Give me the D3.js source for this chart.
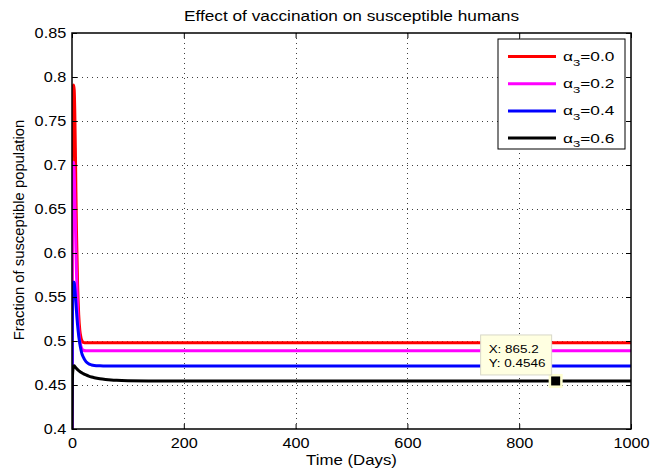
<!DOCTYPE html>
<html>
<head>
<meta charset="utf-8">
<script src="https://cdn.jsdelivr.net/npm/d3@7"></script>
<style>
  body { margin: 0; background: #fff; }
  svg { display: block; font-family: "Liberation Sans", Arial, sans-serif; }
</style>
</head>
<body>
<svg id="chart" width="651" height="472"></svg>
<script>
// Time grid (days) shared by all four runs
const days = [0, 0.5, 1, 2, 3, 4, 5, 6, 7, 8, 10, 12, 14, 16, 18, 20, 25, 30, 35, 40, 50, 60, 70, 80, 100, 150, 200, 400, 600, 800, 1000];

// Fraction of susceptible humans for each vaccination rate alpha_3
const sAlpha00 = [0.40, 0.62, 0.76, 0.789, 0.791, 0.785, 0.76, 0.72, 0.67, 0.625, 0.565, 0.53, 0.512, 0.504, 0.500, 0.4985, 0.498, 0.498, 0.498, 0.498, 0.498, 0.498, 0.498, 0.498, 0.498, 0.498, 0.498, 0.498, 0.498, 0.498, 0.498];
const sAlpha02 = [0.40, 0.57, 0.67, 0.70, 0.703, 0.69, 0.665, 0.635, 0.605, 0.578, 0.537, 0.513, 0.500, 0.494, 0.491, 0.4895, 0.489, 0.489, 0.489, 0.489, 0.489, 0.489, 0.489, 0.489, 0.489, 0.489, 0.489, 0.489, 0.489, 0.489, 0.489];
const sAlpha04 = [0.40, 0.50, 0.545, 0.562, 0.567, 0.566, 0.560, 0.552, 0.543, 0.534, 0.518, 0.506, 0.497, 0.490, 0.485, 0.482, 0.4765, 0.474, 0.4728, 0.4722, 0.4718, 0.4716, 0.4716, 0.4716, 0.4716, 0.4716, 0.4716, 0.4716, 0.4716, 0.4716, 0.4716];
const sAlpha06 = [0.40, 0.445, 0.462, 0.469, 0.4715, 0.4718, 0.471, 0.4702, 0.4695, 0.4688, 0.4675, 0.4664, 0.4654, 0.4645, 0.4637, 0.463, 0.4614, 0.4601, 0.4591, 0.4583, 0.4571, 0.4563, 0.4557, 0.4553, 0.4549, 0.4546, 0.4546, 0.4546, 0.4546, 0.4546, 0.4546];

const seriesNames = ["0.0", "0.2", "0.4", "0.6"];
const seriesColors = ["#ff0000", "#ff00ff", "#0000ff", "#000000"];
const seriesValues = [sAlpha00, sAlpha02, sAlpha04, sAlpha06];

const xTicks = [0, 200, 400, 600, 800, 1000];
const yTicks = [0.4, 0.45, 0.5, 0.55, 0.6, 0.65, 0.7, 0.75, 0.8, 0.85];

// Data cursor readout
const tipX = 865.2;
const tipY = 0.4546;

const svg = d3.select("#chart");
const plotLeft = 72, plotRight = 631, plotTop = 33, plotBottom = 429;
const stretch = 1.16; // horizontal widening of the figure's lettering

const x = d3.scaleLinear().domain([0, 1000]).range([plotLeft, plotRight]);
const y = d3.scaleLinear().domain([0.4, 0.85]).range([plotBottom, plotTop]);

// Text placed at (px, py) and widened horizontally about its anchor
function label(parent, px, py, str, size, sx, anchor) {
  return parent.append("g").attr("transform", `translate(${px},${py}) scale(${sx},1)`)
    .append("text").attr("text-anchor", anchor || "start").attr("font-size", size)
    .attr("fill", "#000").text(str);
}

// Dotted grid
const grid = svg.append("g").attr("stroke", "#000").attr("stroke-width", 1)
  .attr("stroke-dasharray", "1,4").attr("opacity", 0.75);
grid.selectAll("line.gx").data(xTicks.slice(1, -1)).join("line")
  .attr("x1", d => Math.round(x(d)) + 0.5).attr("x2", d => Math.round(x(d)) + 0.5)
  .attr("y1", plotTop).attr("y2", plotBottom);
grid.selectAll("line.gy").data(yTicks.slice(1, -1)).join("line")
  .attr("y1", d => Math.round(y(d)) + 0.5).attr("y2", d => Math.round(y(d)) + 0.5)
  .attr("x1", plotLeft).attr("x2", plotRight);

// Curves
svg.append("clipPath").attr("id", "plotclip")
  .append("rect").attr("x", plotLeft).attr("y", plotTop - 2)
  .attr("width", plotRight - plotLeft).attr("height", plotBottom - plotTop + 4);

const line = d3.line().x(d => x(d[0])).y(d => y(d[1])).curve(d3.curveMonotoneX);
const curves = svg.append("g").attr("clip-path", "url(#plotclip)");
seriesValues.forEach((vals, i) => {
  curves.append("path")
    .datum(days.map((t, k) => [t, vals[k]]))
    .attr("d", line)
    .attr("fill", "none")
    .attr("stroke", seriesColors[i])
    .attr("stroke-width", 3)
    .attr("stroke-linejoin", "round");
});

// Axes box with inward ticks on all four sides
const axisStyle = g => {
  g.select(".domain").remove();
  g.selectAll(".tick line").attr("stroke", "#000");
  g.selectAll(".tick text").attr("font-size", 14).attr("fill", "#000")
    .attr("font-family", "Liberation Sans, Arial, sans-serif")
    .attr("transform", `scale(${stretch},1)`);
};
svg.append("g").attr("transform", `translate(0,${plotBottom})`)
  .call(d3.axisBottom(x).tickValues(xTicks).tickSize(-5).tickPadding(9).tickFormat(d3.format("d")))
  .call(axisStyle);
svg.append("g").attr("transform", `translate(0,${plotTop})`)
  .call(d3.axisTop(x).tickValues(xTicks).tickSize(-5).tickFormat(""))
  .call(axisStyle);
svg.append("g").attr("transform", `translate(${plotLeft},0)`)
  .call(d3.axisLeft(y).tickValues(yTicks).tickSize(-5).tickPadding(5).tickFormat(d => String(+d.toFixed(2))))
  .call(axisStyle);
svg.append("g").attr("transform", `translate(${plotRight},0)`)
  .call(d3.axisRight(y).tickValues(yTicks).tickSize(-5).tickFormat(""))
  .call(axisStyle);
svg.append("rect").attr("x", plotLeft).attr("y", plotTop)
  .attr("width", plotRight - plotLeft).attr("height", plotBottom - plotTop)
  .attr("fill", "none").attr("stroke", "#000").attr("stroke-width", 1.5);

// Data cursor marker and readout box
svg.append("rect").attr("x", x(tipX) - 7).attr("y", y(tipY) - 7).attr("width", 14).attr("height", 14)
  .attr("fill", "#ffffd0");
svg.append("rect").attr("x", x(tipX) - 4.5).attr("y", y(tipY) - 4.5).attr("width", 9).attr("height", 9)
  .attr("fill", "#000");
const tip = svg.append("g").attr("transform", `translate(${x(tipX) - 75},${y(tipY) - 46})`);
tip.append("rect").attr("width", 71).attr("height", 40).attr("fill", "#ffffe1")
  .attr("stroke", "#d8d8c8").attr("stroke-width", 1);
label(tip, 8, 18, `X: ${tipX}`, 11.6, stretch);
label(tip, 8, 32, `Y: ${tipY}`, 11.6, stretch);

// Legend
const lg = svg.append("g").attr("transform", "translate(498,39)");
lg.append("rect").attr("width", 127).attr("height", 110).attr("fill", "#fff")
  .attr("stroke", "#000").attr("stroke-width", 1);
seriesNames.forEach((name, i) => {
  const yy = 17.5 + i * 27.2;
  lg.append("line").attr("x1", 10).attr("x2", 58).attr("y1", yy).attr("y2", yy)
    .attr("stroke", seriesColors[i]).attr("stroke-width", 3);
  const t = label(lg, 65, yy + 4.5, "", 12.5, 1.38);
  t.append("tspan").text("\u03B1");
  t.append("tspan").attr("font-size", 9.5).attr("dy", 4.5).text("3");
  t.append("tspan").attr("dy", -4.5).text("=" + name);
});

// Titles
label(svg, (plotLeft + plotRight) / 2, 20.5, "Effect of vaccination on susceptible humans", 15, 1.15, "middle");
label(svg, (plotLeft + plotRight) / 2, 465, "Time (Days)", 14, 1.2, "middle");
svg.append("text").attr("transform", `translate(24,${(plotTop + plotBottom) / 2 - 1}) rotate(-90)`)
  .attr("text-anchor", "middle").attr("font-size", 14.8).text("Fraction of susceptible population");
</script>
</body>
</html>
